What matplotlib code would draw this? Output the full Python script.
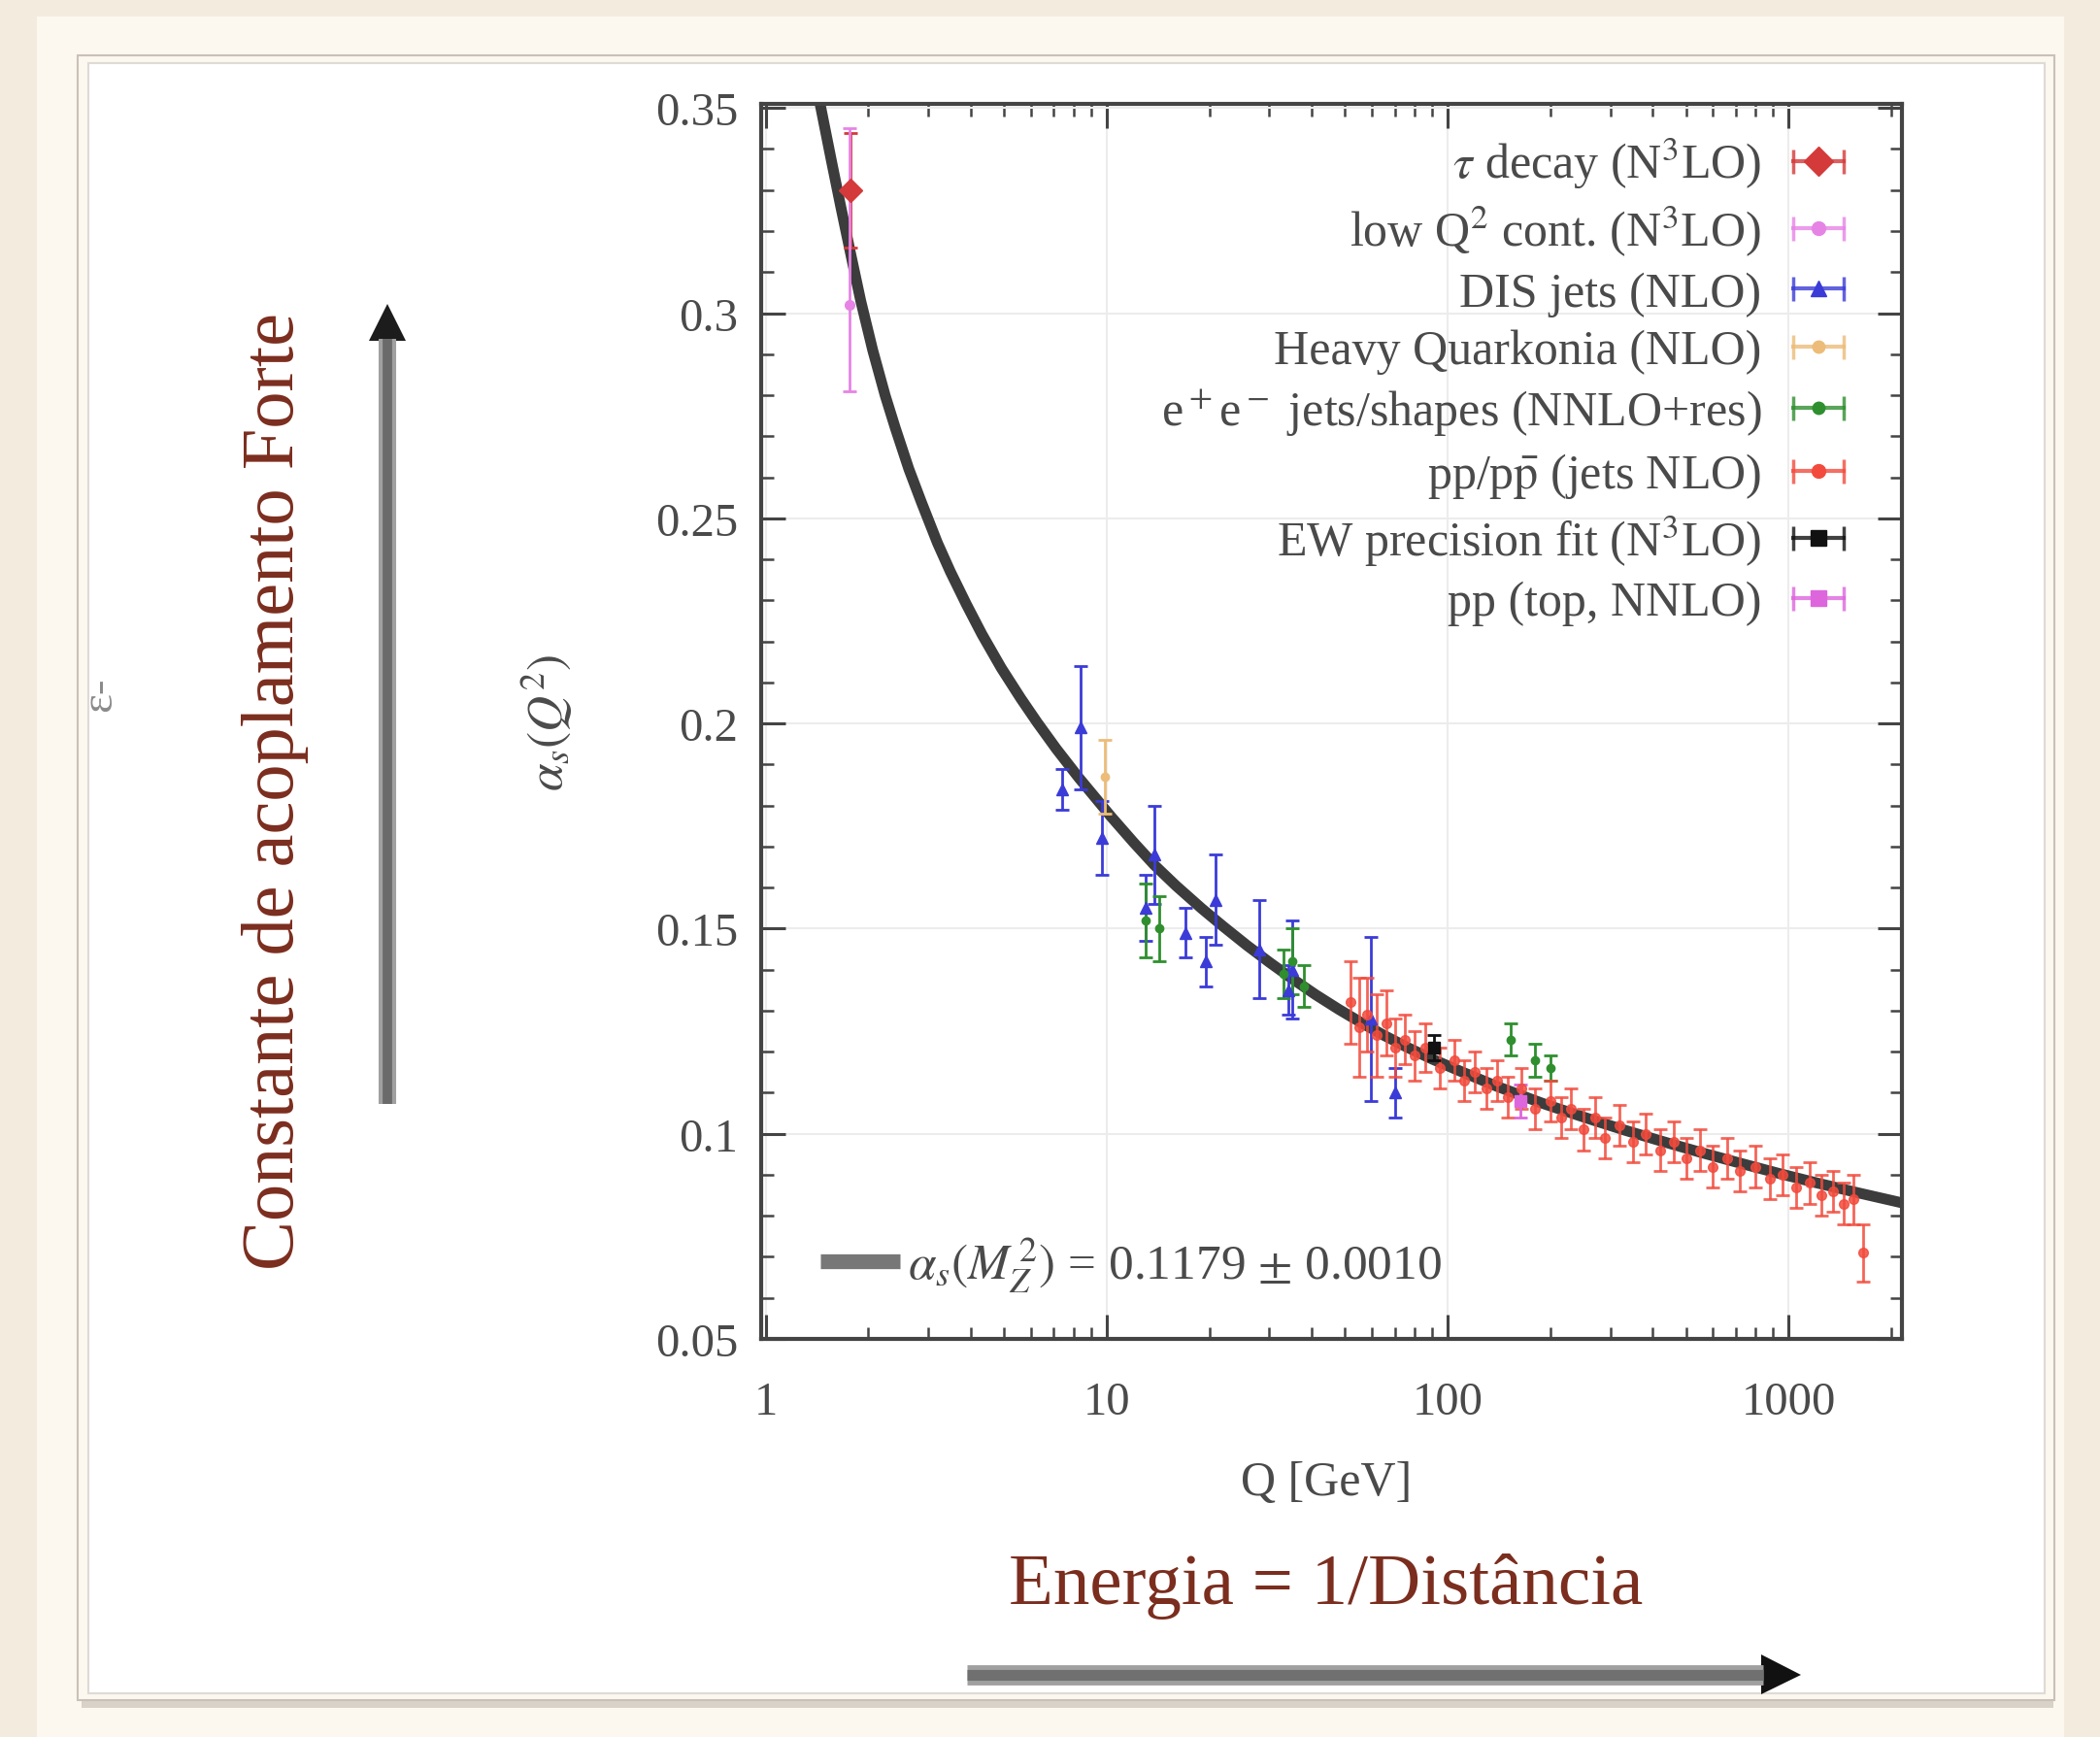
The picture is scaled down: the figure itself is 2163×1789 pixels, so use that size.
import matplotlib
matplotlib.use('Agg')
import matplotlib.pyplot as plt
from matplotlib.lines import Line2D
from matplotlib.patches import Rectangle, Polygon
from matplotlib.ticker import MultipleLocator, LogLocator, NullFormatter
from matplotlib.legend_handler import HandlerLine2D, HandlerTuple

plt.rcParams['font.family'] = ['Liberation Serif', 'DejaVu Serif']
plt.rcParams['mathtext.fontset'] = 'stix'

# curva do ajuste alpha_s(Q)
Q_fit = [1.42, 1.46, 1.56, 1.66, 1.78, 1.90, 2.06, 2.24, 2.40, 2.63, 2.86, 3.19, 3.48, 3.88,
         4.31, 4.91, 5.6, 6.25, 7.12, 8.28, 10.3, 12.0, 13.8, 16.0, 19.0, 22.0, 25.8, 30.0,
         35.0, 41.0, 48.0, 56.0, 65.0, 76.0, 89.5, 110, 140, 190, 254, 330, 420, 550, 716,
         950, 1200, 1600, 2040, 2300]
alpha_fit = [0.354, 0.349, 0.337, 0.326, 0.314, 0.303, 0.291, 0.280, 0.272, 0.262, 0.254,
             0.244, 0.237, 0.229, 0.2217, 0.2135, 0.2061, 0.2003, 0.1938, 0.1868, 0.1773,
             0.171, 0.1655, 0.1604, 0.1549, 0.1505, 0.1459, 0.1418, 0.1378, 0.1339, 0.1303,
             0.1270, 0.1240, 0.1211, 0.1183, 0.1151, 0.1115, 0.1074, 0.1039, 0.1009, 0.0983,
             0.0955, 0.0929, 0.0902, 0.0881, 0.0856, 0.0836, 0.0826]

# medidas
Q_tau, a_tau, e_tau = [1.777], [0.330], [0.014]
Q_lowq, a_lowq = [1.76], [0.302]
e_lowq = [[0.021], [0.043]]
Q_dis = [7.4, 8.4, 9.7, 13.0, 13.8, 17.0, 19.5, 20.9, 28.0, 34.0, 35.0, 59.5, 70.0]
a_dis = [0.184, 0.199, 0.172, 0.155, 0.168, 0.149, 0.142, 0.157, 0.145, 0.135, 0.140, 0.128, 0.110]
e_dis = [0.005, 0.015, 0.009, 0.008, 0.012, 0.006, 0.006, 0.011, 0.012, 0.006, 0.012, 0.020, 0.006]
Q_hq, a_hq, e_hq = [9.9], [0.187], [0.009]
Q_ee = [13.0, 14.3, 33.0, 35.0, 38.0, 153, 180, 200]
a_ee = [0.152, 0.150, 0.139, 0.142, 0.136, 0.123, 0.118, 0.116]
e_ee = [0.009, 0.008, 0.006, 0.008, 0.005, 0.004, 0.004, 0.003]
Q_pp = [52, 55, 58, 62, 66, 70, 75, 80, 86, 95, 105, 112, 120, 130, 140, 150, 165, 180, 200,
        215, 230, 250, 270, 290, 320, 350, 380, 420, 460, 500, 550, 600, 660, 720, 800, 880,
        960, 1050, 1150, 1250, 1350, 1450, 1550, 1650]
a_pp = [0.132, 0.126, 0.129, 0.124, 0.127, 0.121, 0.123, 0.119, 0.121, 0.116, 0.118, 0.113,
        0.115, 0.111, 0.113, 0.109, 0.111, 0.106, 0.108, 0.104, 0.106, 0.101, 0.104, 0.099,
        0.102, 0.098, 0.100, 0.096, 0.098, 0.094, 0.096, 0.092, 0.094, 0.091, 0.092, 0.089,
        0.090, 0.087, 0.088, 0.085, 0.086, 0.083, 0.084, 0.071]
e_pp = [0.010, 0.012, 0.009, 0.010, 0.008, 0.007, 0.006, 0.006, 0.006, 0.005, 0.005, 0.005,
        0.005, 0.005, 0.005, 0.005, 0.005, 0.005, 0.005, 0.005, 0.005, 0.005, 0.005, 0.005,
        0.005, 0.005, 0.005, 0.005, 0.005, 0.005, 0.005, 0.005, 0.005, 0.005, 0.005, 0.005,
        0.005, 0.005, 0.005, 0.005, 0.005, 0.005, 0.006, 0.007]
Q_ew, a_ew, e_ew = [91.19], [0.121], [0.003]
Q_top, a_top, e_top = [163], [0.108], [0.004]

x_ticks = [1, 10, 100, 1000]
x_ticklabels = ['1', '10', '100', '1000']
y_ticks = [0.05, 0.10, 0.15, 0.20, 0.25, 0.30, 0.35]
y_ticklabels = ['0.05', '0.1', '0.15', '0.2', '0.25', '0.3', '0.35']

W, H = 2163, 1790
fig = plt.figure(figsize=(W / 100, H / 100), dpi=100, facecolor='#f4ebdf')

def fx(px):
    return px / W

def fy(py):
    return 1 - py / H

# moldura do slide
fig.add_artist(Rectangle((fx(38), 0), fx(2126) - fx(38), fy(18), transform=fig.transFigure,
                         facecolor='#fcf7ef', edgecolor='none', zorder=0))
fig.add_artist(Rectangle((fx(84), fy(1760)), fx(2115) - fx(84), fy(58) - fy(1760),
                         transform=fig.transFigure, facecolor='#d9d2c8', edgecolor='none', zorder=0))
fig.add_artist(Rectangle((fx(80), fy(1752)), fx(2116) - fx(80), fy(58) - fy(1752),
                         transform=fig.transFigure, facecolor='#fcf7ef', edgecolor='#c9c1b7',
                         lw=1.5, zorder=0))
fig.add_artist(Rectangle((fx(91), fy(1745)), fx(2106) - fx(91), fy(66) - fy(1745),
                         transform=fig.transFigure, facecolor='white', edgecolor='#dedad4',
                         lw=1.5, zorder=0))

ax = fig.add_axes([784 / W, 1 - 1380 / H, (1959 - 784) / W, (1380 - 108) / H])
ax.set_xscale('log')
ax.set_xlim(0.97, 2150)
ax.set_ylim(0.05, 0.351)

ax.grid(True, which='major', color='#ececec', lw=1.5)

fit_line, = ax.plot(Q_fit, alpha_fit, color='#3c3c3c', lw=8, solid_capstyle='butt',
                    solid_joinstyle='round', zorder=2)

kw = dict(elinewidth=2, capsize=5, capthick=2, zorder=3, ls='none')
series = [
    (Q_tau, a_tau, e_tau, 'D', 12, '#d43a3a', r'$\tau$ decay (N$^3$LO)'),
    (Q_lowq, a_lowq, e_lowq, 'o', 7, '#e684e6', r'low Q$^2$ cont. (N$^3$LO)'),
    (Q_dis, a_dis, e_dis, '^', 9, '#3b3bd8', 'DIS jets (NLO)'),
    (Q_hq, a_hq, e_hq, 'o', 6, '#ecbc78', 'Heavy Quarkonia (NLO)'),
    (Q_ee, a_ee, e_ee, 'o', 6, '#2f8f2f', r'e$^+$e$^-$ jets/shapes (NNLO+res)'),
    (Q_pp, a_pp, e_pp, 'o', 7, '#f24b3d', r'pp/p$\bar{\rm p}$ (jets NLO)'),
    (Q_ew, a_ew, e_ew, 's', 8, '#111111', r'EW precision fit (N$^3$LO)'),
    (Q_top, a_top, e_top, 's', 8, '#dd66dd', 'pp (top, NNLO)'),
]

handles, labels, hmap = [], [], {}
for q, a, e, m, ms, c, lab in series:
    alpha = 0.85 if c == '#f24b3d' else 1.0
    ax.errorbar(q, a, yerr=e, fmt=m, ms=ms, color=c, alpha=alpha, **kw)
    # simbolo da legenda ao estilo gnuplot: traço horizontal com barras nas pontas
    cap = Line2D([], [], color=c, lw=3, marker='|', ms=18, mew=2.5, alpha=0.8)
    pt = Line2D([], [], color=c, ls='none', marker=m, ms=ms + 3)
    hmap[cap] = HandlerLine2D(numpoints=2)
    handles.append((cap, pt))
    labels.append(lab)
hmap[tuple] = HandlerTuple(ndivide=1)

ax.set_xticks(x_ticks, labels=x_ticklabels)
ax.set_yticks(y_ticks, labels=y_ticklabels)
ax.xaxis.set_minor_locator(LogLocator(base=10, subs=range(2, 10), numticks=20))
ax.xaxis.set_minor_formatter(NullFormatter())
ax.yaxis.set_minor_locator(MultipleLocator(0.01))
ax.tick_params(which='both', direction='in', top=True, right=True, color='#444444',
               labelcolor='#4a4a4a')
ax.tick_params(which='major', length=18, width=2.2, labelsize=35)
ax.tick_params(which='minor', length=9, width=1.8)
ax.tick_params(axis='y', which='major', pad=17)
ax.tick_params(axis='x', which='major', pad=31)
for s in ax.spines.values():
    s.set_linewidth(3)
    s.set_color('#444444')

ax.set_xlabel('Q [GeV]', fontsize=36, color='#4a4a4a')
ax.xaxis.set_label_coords(0.495, -0.098)
ax.set_ylabel(r'$\alpha_s(Q^2)$', fontsize=37, color='#4a4a4a')
ax.yaxis.set_label_coords(-0.163, 0.5)

leg = ax.legend(handles, labels, handler_map=hmap,
                loc='upper right', bbox_to_anchor=(0.962, 0.974), markerfirst=False,
                frameon=False, fontsize=36, labelspacing=0.265, handlelength=1.65,
                handletextpad=0.35, borderpad=0, borderaxespad=0)
for t in leg.get_texts():
    t.set_color('#4a4a4a')
ax.add_artist(leg)

fit_handle = Line2D([], [], color='#777777', lw=11, solid_capstyle='butt')
leg2 = ax.legend([fit_handle], [r'$\alpha_s(M_Z^{\,2})$ = 0.1179 $\pm$ 0.0010'],
                 loc='lower left', bbox_to_anchor=(0.052, 0.036),
                 frameon=False, fontsize=37, handlelength=1.6, handletextpad=0.15,
                 borderpad=0, borderaxespad=0)
for t in leg2.get_texts():
    t.set_color('#4a4a4a')

# textos do slide
brown = '#7b2d1e'
fig.text(fx(283), fy(815), 'Constante de acoplamento Forte', rotation=90, ha='center',
         va='center', fontsize=55, color=brown)
fig.text(fx(1366), fy(1634), 'Energia = 1/Distância', ha='center', va='center',
         fontsize=54, color=brown)
fig.text(fx(103), fy(715), 'ε-', rotation=90, ha='center', va='center', fontsize=34,
         color='#8a8a8a')

# seta vertical
fig.add_artist(Line2D([fx(399), fx(399)], [fy(1138), fy(350)], transform=fig.transFigure,
                      lw=13, color='#a0a0a0', solid_capstyle='butt'))
fig.add_artist(Line2D([fx(399), fx(399)], [fy(1138), fy(350)], transform=fig.transFigure,
                      lw=7, color='#6a6a6a', solid_capstyle='butt'))
fig.add_artist(Polygon([[fx(380), fy(352)], [fx(418), fy(352)], [fx(399), fy(314)]],
                       closed=True, transform=fig.transFigure, facecolor='#1c1c1c',
                       edgecolor='none'))

# seta horizontal
fig.add_artist(Line2D([fx(996), fx(1816)], [fy(1726), fy(1726)], transform=fig.transFigure,
                      lw=15, color='#a0a0a0', solid_capstyle='butt'))
fig.add_artist(Line2D([fx(996), fx(1816)], [fy(1726), fy(1726)], transform=fig.transFigure,
                      lw=8, color='#707070', solid_capstyle='butt'))
fig.add_artist(Polygon([[fx(1814), fy(1705)], [fx(1814), fy(1746)], [fx(1855), fy(1726)]],
                       closed=True, transform=fig.transFigure, facecolor='#111111',
                       edgecolor='none'))

fig.savefig('out.png', dpi=100, facecolor=fig.get_facecolor())
